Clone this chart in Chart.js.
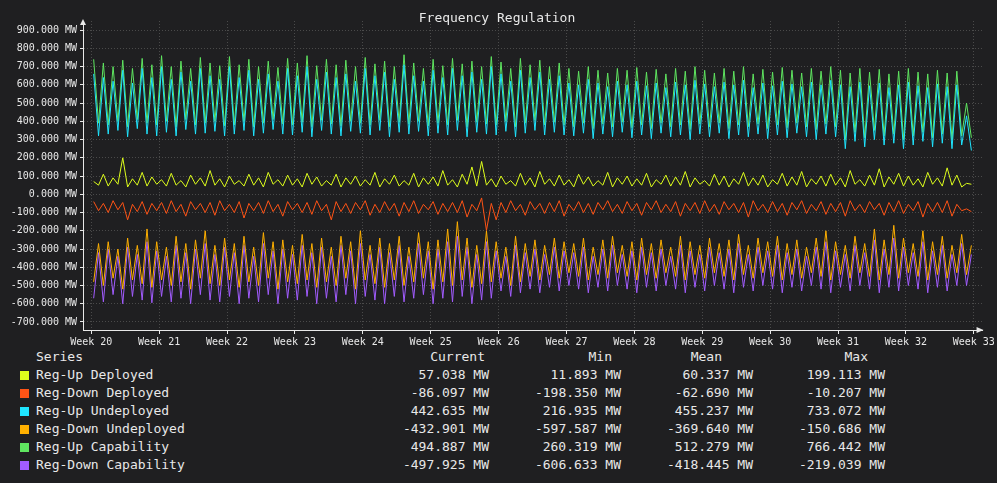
<!DOCTYPE html>
<html>
<head>
<meta charset="utf-8">
<script src="https://cdn.jsdelivr.net/npm/chart.js@4/dist/chart.umd.min.js"></script>
<style>
  body { margin: 0; background: #1f1f21; font-family: "DejaVu Sans Mono", monospace; }
  #wrap { position: absolute; left: 0; top: 0; width: 997px; height: 347px; }
  #legend { position: absolute; left: 0; top: 349px; color: #e8e8e8; font-size: 13px; }
  #legend div { position: absolute; white-space: nowrap; }
  .sw { width: 9px; height: 9px; }
</style>
</head>
<body>
<div id="wrap"><canvas id="c"></canvas></div>
<div id="legend"></div>
<script>
// peak / trough pairs, one day each, one row per week (Week 20 .. Week 32)
const upCapability = [
  740,390, 720,380, 700,400, 735,370, 690,410, 745,390, 710,380,
  760,400, 700,370, 730,410, 690,380, 750,390, 720,400, 705,375,
  755,380, 710,400, 740,370, 700,390, 730,410, 695,385, 745,380,
  720,395, 760,370, 705,405, 740,385, 710,375, 735,400, 700,390,
  750,380, 715,405, 730,370, 700,395, 765,385, 720,400, 690,375,
  740,390, 705,380, 745,405, 715,370, 730,395, 700,385, 755,380,
  725,400, 690,370, 745,390, 710,405, 735,380, 700,395, 720,380,
  690,370, 675,390, 700,360, 680,385, 665,370, 690,395, 680,365,
  695,380, 670,360, 685,390, 660,370, 690,380, 675,355, 700,385,
  680,370, 665,390, 690,360, 675,380, 700,370, 660,385, 685,360,
  670,380, 695,365, 680,390, 665,370, 690,355, 675,385, 700,370,
  680,300, 665,340, 690,310, 670,350, 685,320, 660,330, 675,300,
  690,320, 670,340, 660,310, 680,330, 665,300, 675,320, 500,310
];
const upUndeployed = [
  660,320, 640,330, 620,350, 680,315, 610,360, 690,330, 640,320,
  700,340, 630,320, 670,355, 620,330, 690,335, 650,345, 630,320,
  700,330, 640,350, 680,320, 630,335, 660,355, 620,330, 690,325,
  650,340, 700,315, 630,350, 670,330, 640,320, 660,345, 620,335,
  690,325, 650,350, 670,315, 630,340, 710,330, 650,345, 620,320,
  680,335, 640,325, 690,350, 650,315, 670,340, 630,330, 700,325,
  660,345, 620,315, 680,335, 640,350, 670,325, 630,340, 650,325,
  610,320, 600,335, 630,305, 610,330, 590,315, 620,340, 600,310,
  620,325, 595,305, 610,335, 585,315, 615,325, 600,300, 625,330,
  605,315, 590,335, 615,305, 600,325, 625,315, 585,330, 610,305,
  595,325, 620,310, 605,335, 590,315, 615,300, 600,330, 625,315,
  600,250, 590,290, 615,260, 595,300, 610,270, 585,280, 600,250,
  615,270, 595,290, 585,260, 605,280, 590,250, 600,270, 430,240
];
const upDeployed = [
  70,50, 110,45, 90,55, 200,40, 85,50, 120,45, 95,55,
  80,45, 115,50, 75,40, 105,55, 90,45, 130,50, 85,40,
  100,55, 75,45, 110,50, 90,40, 120,55, 80,45, 105,50,
  85,40, 115,55, 95,45, 75,50, 110,40, 90,55, 100,45,
  80,50, 120,40, 85,55, 105,45, 75,50, 115,40, 90,55,
  95,45, 130,50, 80,40, 110,55, 150,45, 180,50, 85,40,
  100,55, 75,45, 115,50, 90,40, 125,55, 85,45, 105,50,
  80,40, 110,55, 95,45, 75,50, 120,40, 90,55, 100,45,
  85,50, 115,40, 80,55, 105,45, 95,50, 125,40, 90,55,
  75,45, 110,50, 100,40, 85,55, 120,45, 90,50, 105,40,
  80,55, 115,45, 95,50, 125,40, 85,55, 100,45, 110,50,
  90,40, 130,55, 80,45, 105,50, 140,40, 95,55, 115,45,
  100,50, 85,40, 120,55, 90,45, 145,50, 105,40, 60,55
];
const downDeployed = [
  -40,-90, -50,-100, -35,-85, -45,-140, -55,-95, -40,-110, -50,-90,
  -45,-105, -35,-95, -55,-120, -40,-85, -50,-100, -45,-115, -35,-90,
  -55,-100, -40,-130, -50,-90, -45,-105, -35,-95, -55,-120, -40,-85,
  -50,-100, -45,-110, -35,-90, -55,-140, -40,-95, -50,-105, -45,-85,
  -35,-115, -55,-100, -40,-90, -50,-120, -45,-95, -35,-105, -55,-85,
  -40,-110, -50,-95, -45,-100, -35,-125, -55,-90, -20,-198, -50,-140,
  -45,-100, -35,-90, -55,-115, -40,-85, -50,-105, -45,-95, -35,-120,
  -55,-90, -40,-100, -50,-110, -45,-85, -35,-95, -55,-105, -40,-90,
  -50,-115, -45,-85, -35,-100, -55,-95, -40,-120, -50,-90, -45,-105,
  -35,-95, -55,-110, -40,-85, -50,-100, -45,-125, -35,-90, -55,-100,
  -40,-95, -50,-115, -45,-85, -35,-105, -55,-90, -40,-110, -50,-95,
  -45,-120, -35,-90, -55,-100, -40,-85, -50,-115, -45,-95, -35,-105,
  -55,-90, -40,-125, -50,-95, -45,-100, -35,-120, -55,-90, -80,-95
];
const downUndeployed = [
  -480,-270, -500,-260, -460,-300, -520,-240, -470,-280, -490,-190, -510,-260,
  -470,-290, -500,-230, -480,-270, -520,-250, -460,-200, -490,-280, -500,-240,
  -470,-270, -510,-230, -480,-290, -500,-210, -460,-260, -520,-250, -480,-280,
  -490,-220, -470,-270, -510,-240, -480,-290, -500,-230, -460,-260, -520,-200,
  -470,-280, -490,-240, -510,-270, -470,-230, -500,-290, -480,-210, -460,-260,
  -520,-250, -480,-190, -500,-150, -470,-240, -510,-280, -490,-200, -480,-260,
  -460,-290, -500,-230, -480,-270, -450,-250, -470,-280, -440,-240, -460,-260,
  -430,-270, -450,-240, -470,-290, -440,-250, -460,-230, -430,-280, -450,-260,
  -470,-240, -440,-270, -460,-250, -430,-290, -450,-230, -470,-260, -440,-280,
  -460,-240, -430,-270, -450,-250, -470,-220, -440,-280, -460,-240, -430,-260,
  -450,-230, -470,-270, -440,-250, -460,-290, -430,-240, -450,-200, -470,-260,
  -440,-280, -460,-230, -430,-270, -450,-190, -470,-250, -440,-170, -460,-240,
  -430,-270, -450,-200, -470,-260, -440,-230, -460,-280, -430,-220, -440,-280
];
const downCapability = [
  -570,-320, -590,-300, -550,-340, -600,-290, -560,-330, -580,-260, -595,-310,
  -560,-340, -590,-280, -570,-320, -600,-300, -550,-270, -580,-330, -590,-290,
  -560,-320, -600,-280, -570,-340, -590,-270, -550,-310, -600,-300, -570,-330,
  -580,-280, -560,-320, -600,-290, -570,-340, -590,-280, -550,-310, -600,-270,
  -560,-330, -580,-290, -600,-320, -560,-280, -590,-340, -570,-270, -550,-310,
  -600,-300, -570,-260, -590,-230, -560,-290, -600,-330, -580,-260, -570,-310,
  -530,-340, -560,-280, -540,-320, -520,-300, -540,-330, -510,-290, -530,-310,
  -500,-320, -520,-290, -540,-340, -510,-300, -530,-280, -500,-330, -520,-310,
  -540,-290, -510,-320, -530,-300, -500,-340, -520,-280, -540,-310, -510,-330,
  -530,-290, -500,-320, -520,-300, -540,-270, -510,-330, -530,-290, -500,-310,
  -520,-280, -540,-320, -510,-300, -530,-340, -500,-290, -520,-260, -540,-310,
  -510,-330, -530,-280, -500,-320, -520,-250, -540,-300, -510,-240, -530,-290,
  -500,-320, -520,-260, -540,-310, -510,-280, -530,-330, -500,-270, -500,-330
];
const weekLabels = ['Week 20','Week 21','Week 22','Week 23','Week 24','Week 25','Week 26',
  'Week 27','Week 28','Week 29','Week 30','Week 31','Week 32','Week 33'];
const yTicks = [900,800,700,600,500,400,300,200,100,0,-100,-200,-300,-400,-500,-600,-700];

const seriesNames = ['Reg-Up Deployed','Reg-Down Deployed','Reg-Up Undeployed',
  'Reg-Down Undeployed','Reg-Up Capability','Reg-Down Capability'];
const seriesColors = ['#dfff1c','#ff5416','#1fe5ff','#ffb000','#5fe660','#a25cff'];
const statCurrent = ['57.038','-86.097','442.635','-432.901','494.887','-497.925'];
const statMin = ['11.893','-198.350','216.935','-597.587','260.319','-606.633'];
const statMean = ['60.337','-62.690','455.237','-369.640','512.279','-418.445'];
const statMax = ['199.113','-10.207','733.072','-150.686','766.442','-219.039'];

const seriesData = [upDeployed, downDeployed, upUndeployed, downUndeployed, upCapability, downCapability];
const drawOrder = [2, 4, 0, 1, 3, 5];

function toPoints(arr) {
  return arr.map((v, i) => ({ x: i / 2 + 0.25, y: v }));
}

const datasets = drawOrder.map(i => ({
  label: seriesNames[i],
  data: toPoints(seriesData[i]),
  borderColor: seriesColors[i],
  borderWidth: 1,
  pointRadius: 0,
  tension: 0
}));

const titleAndArrows = {
  id: 'titleAndArrows',
  afterDraw(chart) {
    const ctx = chart.ctx, a = chart.chartArea;
    ctx.save();
    ctx.fillStyle = '#e8e8e8';
    ctx.font = '13px "DejaVu Sans Mono"';
    ctx.textAlign = 'center';
    ctx.textBaseline = 'middle';
    ctx.fillText('Frequency Regulation', 497, 19);
    ctx.beginPath();
    ctx.moveTo(a.left - 3, a.top + 4); ctx.lineTo(a.left, a.top - 2); ctx.lineTo(a.left + 3, a.top + 4);
    ctx.fill();
    ctx.beginPath();
    ctx.moveTo(a.right - 6, a.bottom - 3); ctx.lineTo(a.right + 1, a.bottom); ctx.lineTo(a.right - 6, a.bottom + 3);
    ctx.fill();
    ctx.restore();
  }
};

new Chart(document.getElementById('c'), {
  type: 'line',
  data: { datasets },
  plugins: [titleAndArrows],
  options: {
    responsive: true,
    maintainAspectRatio: false,
    animation: false,
    layout: { padding: { top: 21, right: 12 } },
    plugins: { legend: { display: false }, tooltip: { enabled: false } },
    scales: {
      x: {
        type: 'linear',
        min: -0.85,
        max: 91.9,
        afterBuildTicks: s => { s.ticks = weekLabels.map((l, i) => ({ value: i * 7 })); },
        afterFit: s => { s.height = 17; },
        ticks: {
          color: '#e8e8e8', maxRotation: 0, autoSkip: false,
          font: { family: 'DejaVu Sans Mono', size: 10 }, padding: 2,
          callback: (v) => weekLabels[Math.round(v / 7)]
        },
        grid: { color: '#4a4a4a', tickLength: 4, tickColor: '#e8e8e8' },
        border: { color: '#e8e8e8', dash: [1, 2] }
      },
      y: {
        min: -744,
        max: 950,
        afterBuildTicks: s => { s.ticks = yTicks.map(v => ({ value: v })); },
        afterFit: s => { s.width = 83; },
        ticks: {
          color: '#e8e8e8', padding: 3,
          font: { family: 'DejaVu Sans Mono', size: 10 },
          callback: v => v.toFixed(3) + ' MW'
        },
        grid: { color: '#4a4a4a', tickLength: 3, tickColor: '#e8e8e8' },
        border: { color: '#e8e8e8', dash: [1, 2] }
      }
    }
  }
});

// legend table
const leg = document.getElementById('legend');
function cell(text, left, top, right) {
  const d = document.createElement('div');
  d.textContent = text;
  d.style.top = top + 'px';
  if (right) { d.style.left = (left - 200) + 'px'; d.style.width = '200px'; d.style.textAlign = 'right'; }
  else d.style.left = left + 'px';
  leg.appendChild(d);
}
cell('Series', 36, 0);
cell('Current', 485, 0, true); cell('Min', 612, 0, true);
cell('Mean', 722, 0, true); cell('Max', 868, 0, true);
seriesNames.forEach((n, i) => {
  const top = 18 + i * 18;
  const sw = document.createElement('div');
  sw.className = 'sw';
  sw.style.left = '20px'; sw.style.top = (top + 4) + 'px';
  sw.style.background = seriesColors[i];
  leg.appendChild(sw);
  cell(n, 36, top);
  cell(statCurrent[i] + ' MW', 489, top, true);
  cell(statMin[i] + ' MW', 621, top, true);
  cell(statMean[i] + ' MW', 753, top, true);
  cell(statMax[i] + ' MW', 885, top, true);
});
</script>
</body>
</html>
